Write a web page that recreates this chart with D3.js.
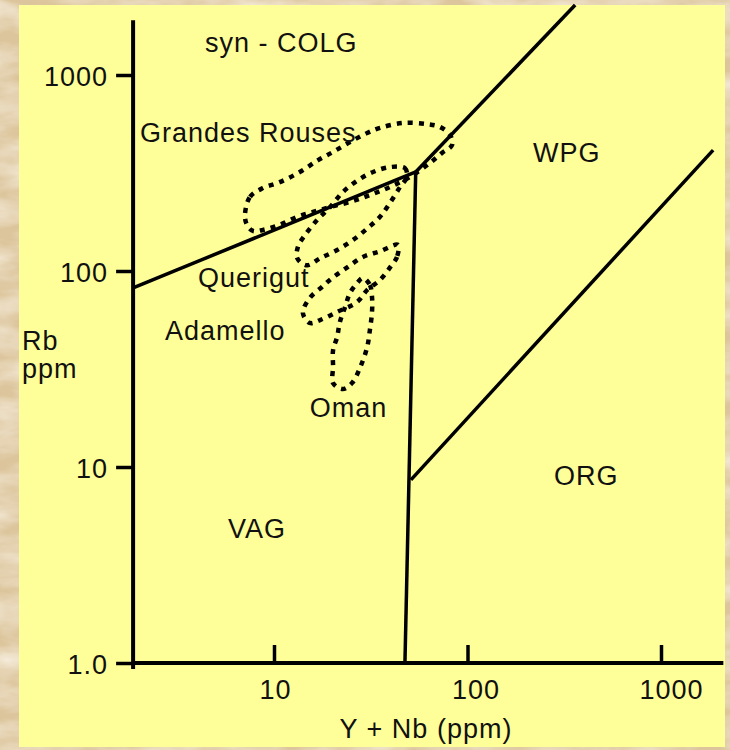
<!DOCTYPE html>
<html>
<head>
<meta charset="utf-8">
<script src="https://cdn.jsdelivr.net/npm/d3@7"></script>
<style>
  html, body { margin: 0; padding: 0; background: #e4d2ae; }
  svg { display: block; }
  text { font-family: "Liberation Sans", Arial, sans-serif; fill: #111; letter-spacing: 1px; }
</style>
</head>
<body>
<svg id="chart" width="730" height="750"></svg>
<script>
// tick values and labels
const xTicks = [10, 100, 1000];
const xTickLabels = ["10", "100", "1000"];
const yTicks = [1, 10, 100, 1000];
const yTickLabels = ["1.0", "10", "100", "1000"];

// axis extents [Y+Nb], [Rb]
const xExtent = [1.87, 2100];
const yExtent = [1, 1900];

// field boundaries, [Y+Nb, Rb] in ppm
const colgVagLine = [[1.87, 82], [54, 320]];
const colgWpgLine = [[54, 320], [360, 2275]];
const vagOrgLine = [[54, 320], [47.5, 1]];
const wpgOrgLine = [[51, 8.6], [1860, 414]];

// dotted granite fields, [Y+Nb, Rb] in ppm
const grandesRouses = [
  [7.08, 193], [7.52, 239], [8.77, 265], [10.7, 284], [13.6, 320], [16.9, 368],
  [20.2, 405], [24.7, 455], [30.3, 506], [35.3, 537], [46.4, 569], [61.8, 562],
  [72.1, 543], [81.3, 494], [83.2, 439], [73.8, 400], [64.0, 356], [50.5, 302],
  [39.7, 268], [31.3, 244], [24.7, 225], [19.5, 212], [15.9, 200], [13.2, 189],
  [10.7, 172], [8.77, 162], [7.79, 160], [7.25, 172]
];
const querigut = [
  [39.7, 339], [47.5, 335], [48.6, 302], [44.8, 268], [39.7, 222], [35.3, 189],
  [30.6, 166], [25.6, 144], [21.2, 128], [17.3, 116], [14.8, 107], [13.2, 116],
  [13.3, 133], [14.5, 153], [16.7, 182], [19.5, 212], [22.7, 253], [27.2, 291],
  [32.5, 320]
];
const adamello = [
  [43.7, 136], [43.2, 118], [39.7, 104], [35.3, 90.0], [30.3, 80.0], [26.9, 69.5],
  [21.2, 61.8], [17.3, 56.2], [15.3, 54.3], [14.1, 61.1], [15.3, 72.8], [17.7, 82.9],
  [20.0, 92.1], [23.8, 104], [28.8, 118], [35.3, 126]
];
const oman = [
  [28.8, 92.1], [31.3, 84.9], [32.1, 73.7], [32.1, 61.8], [31.3, 50.0], [30.3, 40.9],
  [27.8, 32.0], [25.3, 26.8], [22.7, 25.0], [20.2, 26.8], [20.2, 32.4], [20.2, 39.5],
  [21.2, 46.1], [21.9, 54.9], [23.3, 65.5], [24.7, 77.2], [26.9, 86.8]
];

// text labels: [text, Y+Nb, Rb] (left edge / baseline)
const fieldLabels = [
  ["syn - COLG", 4.4, 1310],
  ["Grandes Rouses", 2.03, 455],
  ["WPG", 218, 360],
  ["ORG", 280, 8.1],
  ["VAG", 5.78, 4.34],
  ["Querigut", 4.05, 82.9],
  ["Adamello", 2.73, 44.5],
  ["Oman", 15.3, 18.0]
];

const svg = d3.select("#chart");

// parchment backdrop
const defs = svg.append("defs");
const f = defs.append("filter").attr("id", "paper")
  .attr("x", 0).attr("y", 0).attr("width", "100%").attr("height", "100%");
f.append("feTurbulence")
  .attr("type", "fractalNoise")
  .attr("baseFrequency", "0.015 0.04")
  .attr("numOctaves", 4)
  .attr("seed", 7);
f.append("feColorMatrix")
  .attr("type", "matrix")
  .attr("values", "0 0 0 0 0.93  0 0 0 0 0.86  0 0 0 0 0.74  0 0 0 -1.6 1.1");
svg.append("rect").attr("width", 730).attr("height", 750).attr("fill", "#dcc59c");
svg.append("rect").attr("width", 730).attr("height", 750).attr("filter", "url(#paper)");

// paper panel
svg.append("rect")
  .attr("x", 19).attr("y", 5)
  .attr("width", 706).attr("height", 742)
  .attr("fill", "#ffff99");

const x = d3.scaleLog().domain([10, 1000]).range([274, 661]);
const y = d3.scaleLog().domain([1, 1000]).range([663, 75]);

const fs = "27px";

// Y axis
const yAxis = svg.append("g")
  .attr("transform", `translate(${x(xExtent[0])},0)`)
  .call(d3.axisLeft(y)
    .tickValues(yTicks)
    .tickSize(17)
    .tickPadding(8)
    .tickFormat((d, i) => yTickLabels[i]));
yAxis.select(".domain").remove();
yAxis.selectAll(".tick line").attr("stroke", "#000").attr("stroke-width", 3.5);
yAxis.selectAll(".tick text").style("font-size", fs).attr("dy", "0.4em").attr("fill", "#111");

// X axis
const xLabelDx = [1, 8, 10];
const xAxis = svg.append("g")
  .attr("transform", `translate(0,${y(yExtent[0])})`)
  .call(d3.axisBottom(x)
    .tickValues(xTicks)
    .tickSizeInner(-18)
    .tickSizeOuter(0)
    .tickPadding(17)
    .tickFormat((d, i) => xTickLabels[i]));
xAxis.select(".domain").remove();
xAxis.selectAll(".tick line").attr("stroke", "#000").attr("stroke-width", 3.5);
xAxis.selectAll(".tick text").style("font-size", fs).attr("fill", "#111")
  .attr("dx", (d, i) => xLabelDx[i]);

// axis lines
svg.append("line")
  .attr("x1", x(xExtent[0])).attr("x2", x(xExtent[0]))
  .attr("y1", y(yExtent[1])).attr("y2", y(yExtent[0]) + 6)
  .attr("stroke", "#000").attr("stroke-width", 4);
svg.append("line")
  .attr("x1", x(xExtent[0])).attr("x2", x(xExtent[1]))
  .attr("y1", y(yExtent[0])).attr("y2", y(yExtent[0]))
  .attr("stroke", "#000").attr("stroke-width", 4);

// axis titles
svg.append("text")
  .attr("x", 426).attr("y", 738)
  .attr("text-anchor", "middle")
  .style("font-size", fs)
  .text("Y + Nb (ppm)");
svg.append("text").attr("x", 22).attr("y", 350).style("font-size", fs).text("Rb");
svg.append("text").attr("x", 22).attr("y", 378).style("font-size", fs).text("ppm");

// boundaries
const line = d3.line().x(d => x(d[0])).y(d => y(d[1]));
[colgVagLine, colgWpgLine, vagOrgLine, wpgOrgLine].forEach(b => {
  svg.append("path")
    .attr("d", line(b))
    .attr("fill", "none")
    .attr("stroke", "#000")
    .attr("stroke-width", 3.5)
    .attr("stroke-linecap", "butt");
});

// dotted fields
const loop = d3.line()
  .x(d => x(d[0])).y(d => y(d[1]))
  .curve(d3.curveCatmullRomClosed.alpha(0.5));
[grandesRouses, querigut, adamello, oman].forEach(f => {
  svg.append("path")
    .attr("d", loop(f))
    .attr("fill", "none")
    .attr("stroke", "#000")
    .attr("stroke-width", 4.5)
    .attr("stroke-dasharray", "5,6");
});

// field labels
svg.selectAll(".flabel")
  .data(fieldLabels)
  .enter()
  .append("text")
  .attr("class", "flabel")
  .attr("x", d => x(d[1]))
  .attr("y", d => y(d[2]))
  .style("font-size", fs)
  .text(d => d[0]);
</script>
</body>
</html>
